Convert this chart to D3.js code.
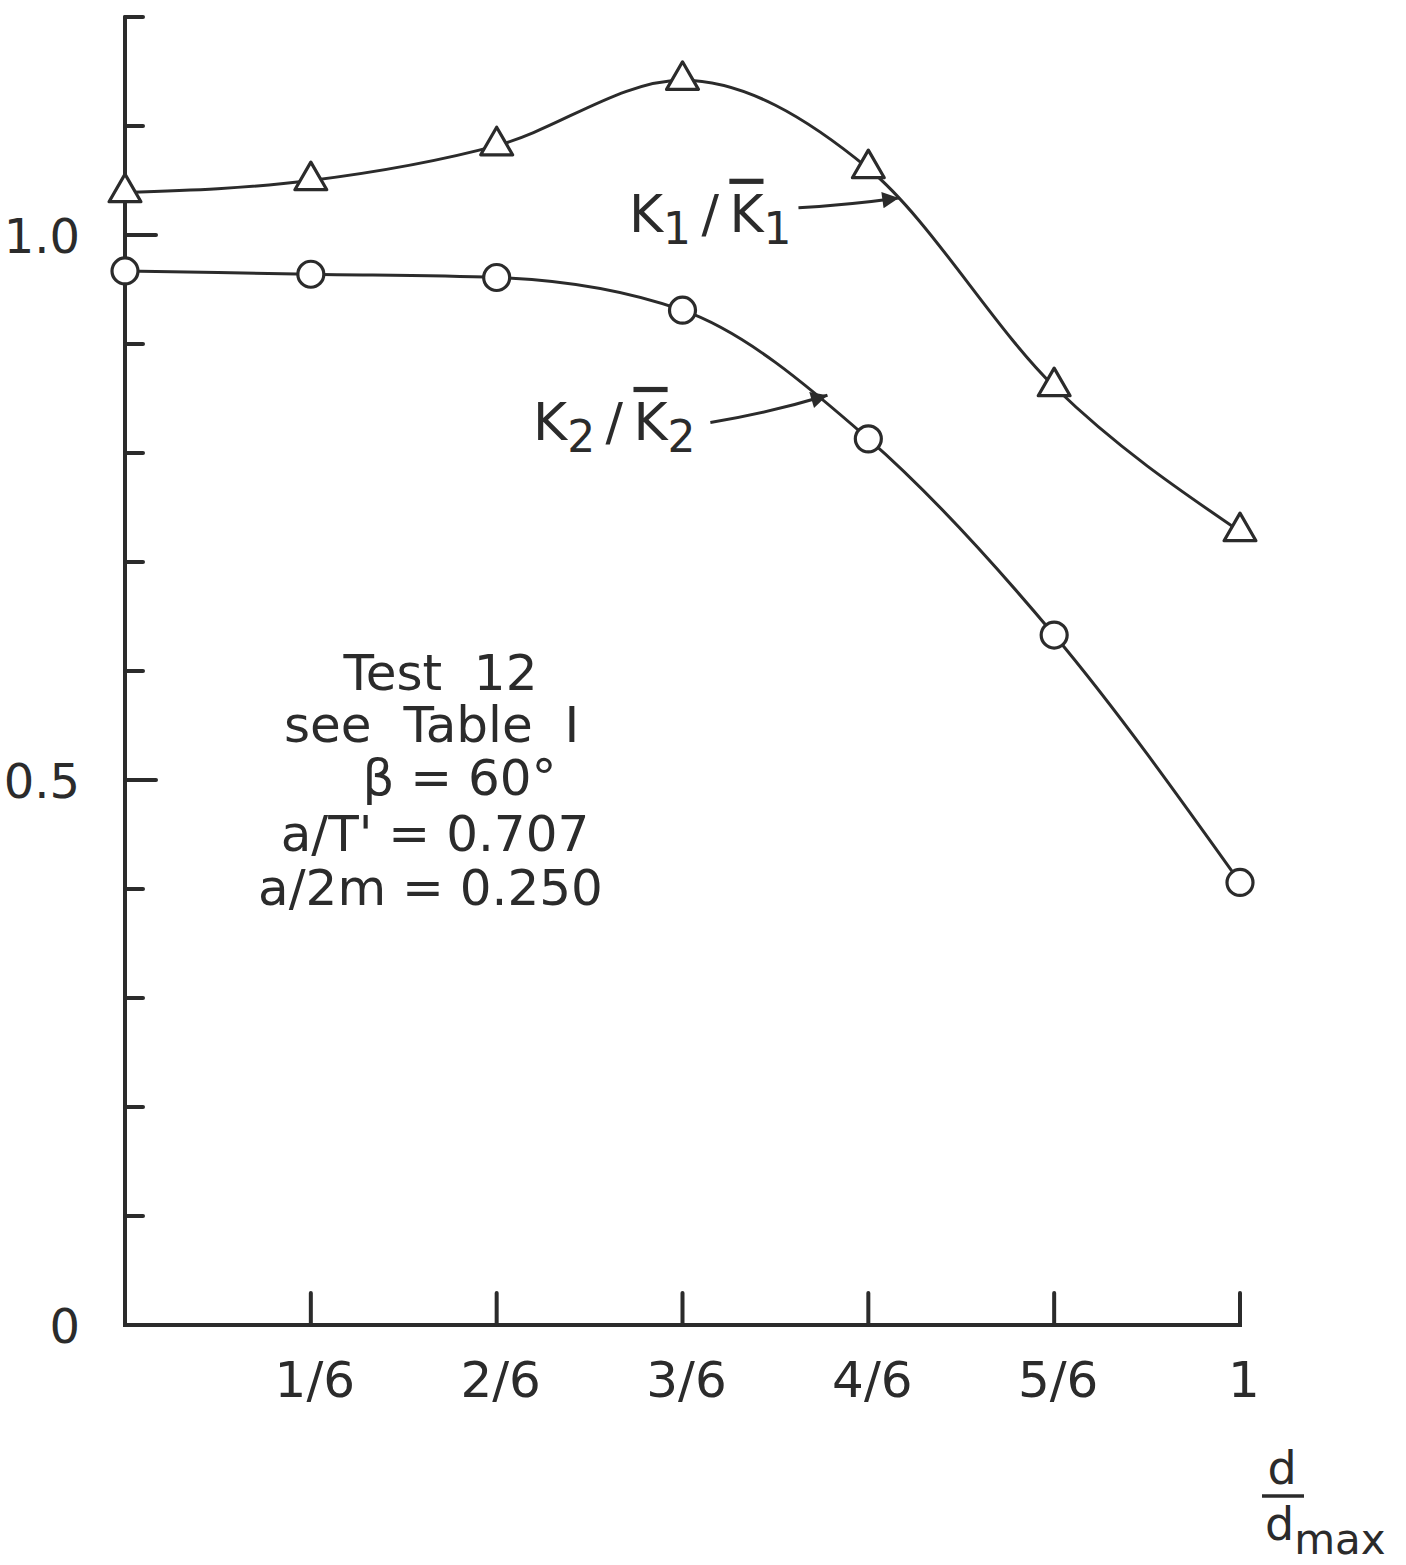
<!DOCTYPE html>
<html>
<head>
<meta charset="utf-8">
<script src="https://cdn.jsdelivr.net/npm/d3@7"></script>
<style>
  html, body { margin: 0; padding: 0; background: #fff; }
  svg { display: block; }
  text { font-family: "DejaVu Sans", "Liberation Sans", sans-serif; fill: #2b2b2b; }
</style>
</head>
<body>
<svg id="chart" width="1406" height="1565"></svg>
<script>
// Relative depth d / d_max
const depth = [0, 1/6, 2/6, 3/6, 4/6, 5/6, 1];
const depthLabels = ["", "1/6", "2/6", "3/6", "4/6", "5/6", "1"];

// Normalised coefficients
const k1Ratio = [1.039, 1.050, 1.082, 1.142, 1.061, 0.861, 0.728];
const k2Ratio = [0.967, 0.964, 0.961, 0.931, 0.813, 0.633, 0.406];

// Y-axis ticks
const yTicks = [0, 0.1, 0.2, 0.3, 0.4, 0.5, 0.6, 0.7, 0.8, 0.9, 1.0, 1.1, 1.2];
const yMajor = [0, 0.5, 1.0];
const yTickLabels = ["0", "0.5", "1.0"];

// Test parameters
const noteLines = ["Test  12", "see  Table  I", "\u03B2 = 60\u00B0", "a/T' = 0.707", "a/2m = 0.250"];

const ink = "#2b2b2b";
const svg = d3.select("#chart");

const x = d3.scaleLinear().domain([0, 1]).range([125, 1240]);
const y = d3.scaleLinear().domain([0, 1.2]).range([1325, 17]);

// Axis lines
svg.append("line")
  .attr("x1", x(0)).attr("x2", x(0)).attr("y1", y(1.2)).attr("y2", y(0))
  .attr("stroke", ink).attr("stroke-width", 4).attr("stroke-linecap", "round");
svg.append("line")
  .attr("x1", x(0)).attr("x2", x(1)).attr("y1", y(0)).attr("y2", y(0))
  .attr("stroke", ink).attr("stroke-width", 4).attr("stroke-linecap", "square");

// y ticks (to the right of the axis)
svg.append("g").selectAll("line").data(yTicks.filter(v => v > 0)).join("line")
  .attr("x1", x(0)).attr("y1", d => y(d)).attr("y2", d => y(d))
  .attr("x2", d => x(0) + (yMajor.some(m => Math.abs(m - d) < 1e-9) ? 31 : 18))
  .attr("stroke", ink).attr("stroke-width", 4).attr("stroke-linecap", "round");

svg.append("g").selectAll("text").data(yMajor).join("text")
  .attr("x", x(0) - 45).attr("y", d => y(d) + 18)
  .attr("text-anchor", "end").attr("font-size", 48)
  .text((d, i) => yTickLabels[i]);

// x ticks (upward)
svg.append("g").selectAll("line").data(depth.slice(1)).join("line")
  .attr("x1", d => x(d)).attr("x2", d => x(d))
  .attr("y1", y(0)).attr("y2", y(0) - 32)
  .attr("stroke", ink).attr("stroke-width", 4).attr("stroke-linecap", "round");

svg.append("g").selectAll("text").data(depth).join("text")
  .attr("x", d => x(d) + 4).attr("y", y(0) + 72)
  .attr("text-anchor", "middle").attr("font-size", 50)
  .text((d, i) => depthLabels[i]);

// x axis title: d / d_max
const xt = svg.append("g").attr("transform", `translate(${x(1) + 22},0)`);
xt.append("text").attr("x", 20).attr("y", 1484).attr("text-anchor", "middle")
  .attr("font-size", 46).text("d");
xt.append("line").attr("x1", 0).attr("x2", 42).attr("y1", 1496).attr("y2", 1496)
  .attr("stroke", ink).attr("stroke-width", 3.5);
const xt2 = xt.append("text").attr("x", 3).attr("y", 1540).attr("font-size", 46);
xt2.append("tspan").text("d");
xt2.append("tspan").attr("dy", 14).attr("font-size", 42).text("max");

// Curves
const line = d3.line().x(d => x(d[0])).y(d => y(d[1])).curve(d3.curveMonotoneX);
const k1Pts = depth.map((d, i) => [d, k1Ratio[i]]);
const k2Pts = depth.map((d, i) => [d, k2Ratio[i]]);

svg.append("path").datum(k1Pts).attr("d", line)
  .attr("fill", "none").attr("stroke", ink).attr("stroke-width", 3);
svg.append("path").datum(k2Pts).attr("d", line)
  .attr("fill", "none").attr("stroke", ink).attr("stroke-width", 3);

// Markers
const tri = d3.symbol().type(d3.symbolTriangle).size(440);
svg.append("g").selectAll("path").data(k1Pts).join("path")
  .attr("transform", d => `translate(${x(d[0])},${y(d[1])})`)
  .attr("d", tri)
  .attr("fill", "#fff").attr("stroke", ink).attr("stroke-width", 3.2)
  .attr("stroke-linejoin", "round");

svg.append("g").selectAll("circle").data(k2Pts).join("circle")
  .attr("cx", d => x(d[0])).attr("cy", d => y(d[1])).attr("r", 13)
  .attr("fill", "#fff").attr("stroke", ink).attr("stroke-width", 3.2);

// Arrowhead
svg.append("defs").append("marker")
  .attr("id", "arrow").attr("viewBox", "0 0 10 10")
  .attr("refX", 10).attr("refY", 5)
  .attr("markerWidth", 8).attr("markerHeight", 5.5)
  .attr("markerUnits", "strokeWidth").attr("orient", "auto")
  .append("path").attr("d", "M0,0 L10,5 L0,10 Z").attr("fill", ink);

// Series labels with leader arrows (in data coordinates)
function seriesLabel(tx, ty, sub, from, to, bend) {
  const t = svg.append("text").attr("x", x(tx)).attr("y", y(ty)).attr("font-size", 52)
    .attr("xml:space", "preserve").style("white-space", "pre");
  t.append("tspan").text("K");
  t.append("tspan").attr("dy", 12).attr("font-size", 44).text(sub);
  t.append("tspan").attr("dy", -12).text("\u2009/\u2009");
  t.append("tspan").attr("text-decoration", "overline").text("K");
  t.append("tspan").attr("dy", 12).attr("font-size", 44).text(sub);

  const x0 = x(from[0]), y0 = y(from[1]), x1 = x(to[0]), y1 = y(to[1]);
  const cx = (x0 + x1) / 2, cy = (y0 + y1) / 2 + bend;
  svg.append("path")
    .attr("d", `M${x0},${y0} Q${cx},${cy} ${x1},${y1}`)
    .attr("fill", "none").attr("stroke", ink).attr("stroke-width", 3)
    .attr("marker-end", "url(#arrow)");
}
seriesLabel(0.452, 1.003, "1", [0.604, 1.025], [0.694, 1.034], 2);
seriesLabel(0.366, 0.812, "2", [0.525, 0.828], [0.630, 0.853], 4);

// Test parameter block
const noteX = [0.283, 0.275, 0.30, 0.278, 0.274];
const noteY = [0.583, 0.535, 0.486, 0.435, 0.385];
svg.append("g").selectAll("text").data(noteLines).join("text")
  .attr("x", (d, i) => x(noteX[i])).attr("y", (d, i) => y(noteY[i]))
  .attr("text-anchor", "middle").attr("font-size", 50)
  .attr("xml:space", "preserve").style("white-space", "pre")
  .text(d => d);
</script>
</body>
</html>
